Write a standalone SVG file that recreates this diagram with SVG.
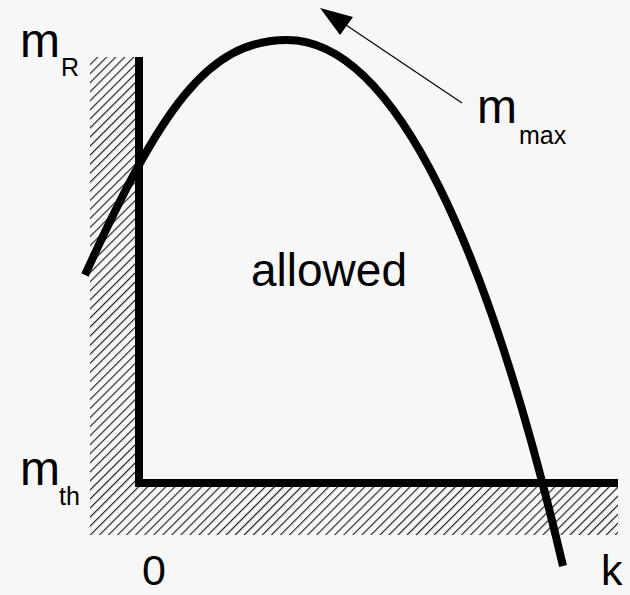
<svg xmlns="http://www.w3.org/2000/svg" width="630" height="595" viewBox="0 0 630 595">
  <style>
    text { font-family: "Liberation Sans", Arial, sans-serif; fill: #000; }
    .big { font-size: 48px; }
    .lbl { font-size: 46px; }
    .bot { font-size: 43px; }
    .sub { font-size: 25px; }
    .axis { fill: none; stroke: #000; stroke-width: 8; stroke-linejoin: miter; }
    .curve { fill: none; stroke: #000; stroke-width: 8; }
  </style>
  <defs>
    <pattern id="hatch" patternUnits="userSpaceOnUse" width="6.4" height="6.4" patternTransform="rotate(45)">
      <line x1="0.6" y1="0" x2="0.6" y2="6.4" stroke="#000" stroke-width="1"/>
    </pattern>
  </defs>
  <rect x="0" y="0" width="630" height="595" fill="#f7f7f7"/>
  <g id="hatching">
    <path d="M90,57 H135 V487 H618 V535 H90 Z" fill="url(#hatch)"/>
  </g>
  <g id="connectors">
    <path id="axes" class="axis" d="M139,57 V483 H618"/>
    <path id="mmax-curve" class="curve" d="M85,275 C160,110 207,40 287,40 C397,40 490,255 563,566"/>
    <line x1="462" y1="103" x2="343" y2="23" stroke="#000" stroke-width="1.2"/>
    <polygon points="320,8 353,17 340,35" fill="#000"/>
  </g>
  <g id="label-mR"><text class="big" x="20" y="57">m</text><text class="sub" x="61" y="76">R</text></g>
  <g id="label-mth"><text class="big" x="20" y="485">m</text><text class="sub" x="59" y="505">th</text></g>
  <g id="label-mmax"><text class="big" x="477" y="123">m</text><text class="sub" x="519" y="144">max</text></g>
  <g id="label-allowed"><text class="lbl" x="251" y="286">allowed</text></g>
  <g id="label-0"><text class="bot" x="142" y="585">0</text></g>
  <g id="label-k"><text class="bot" x="601" y="585">k</text></g>
</svg>
